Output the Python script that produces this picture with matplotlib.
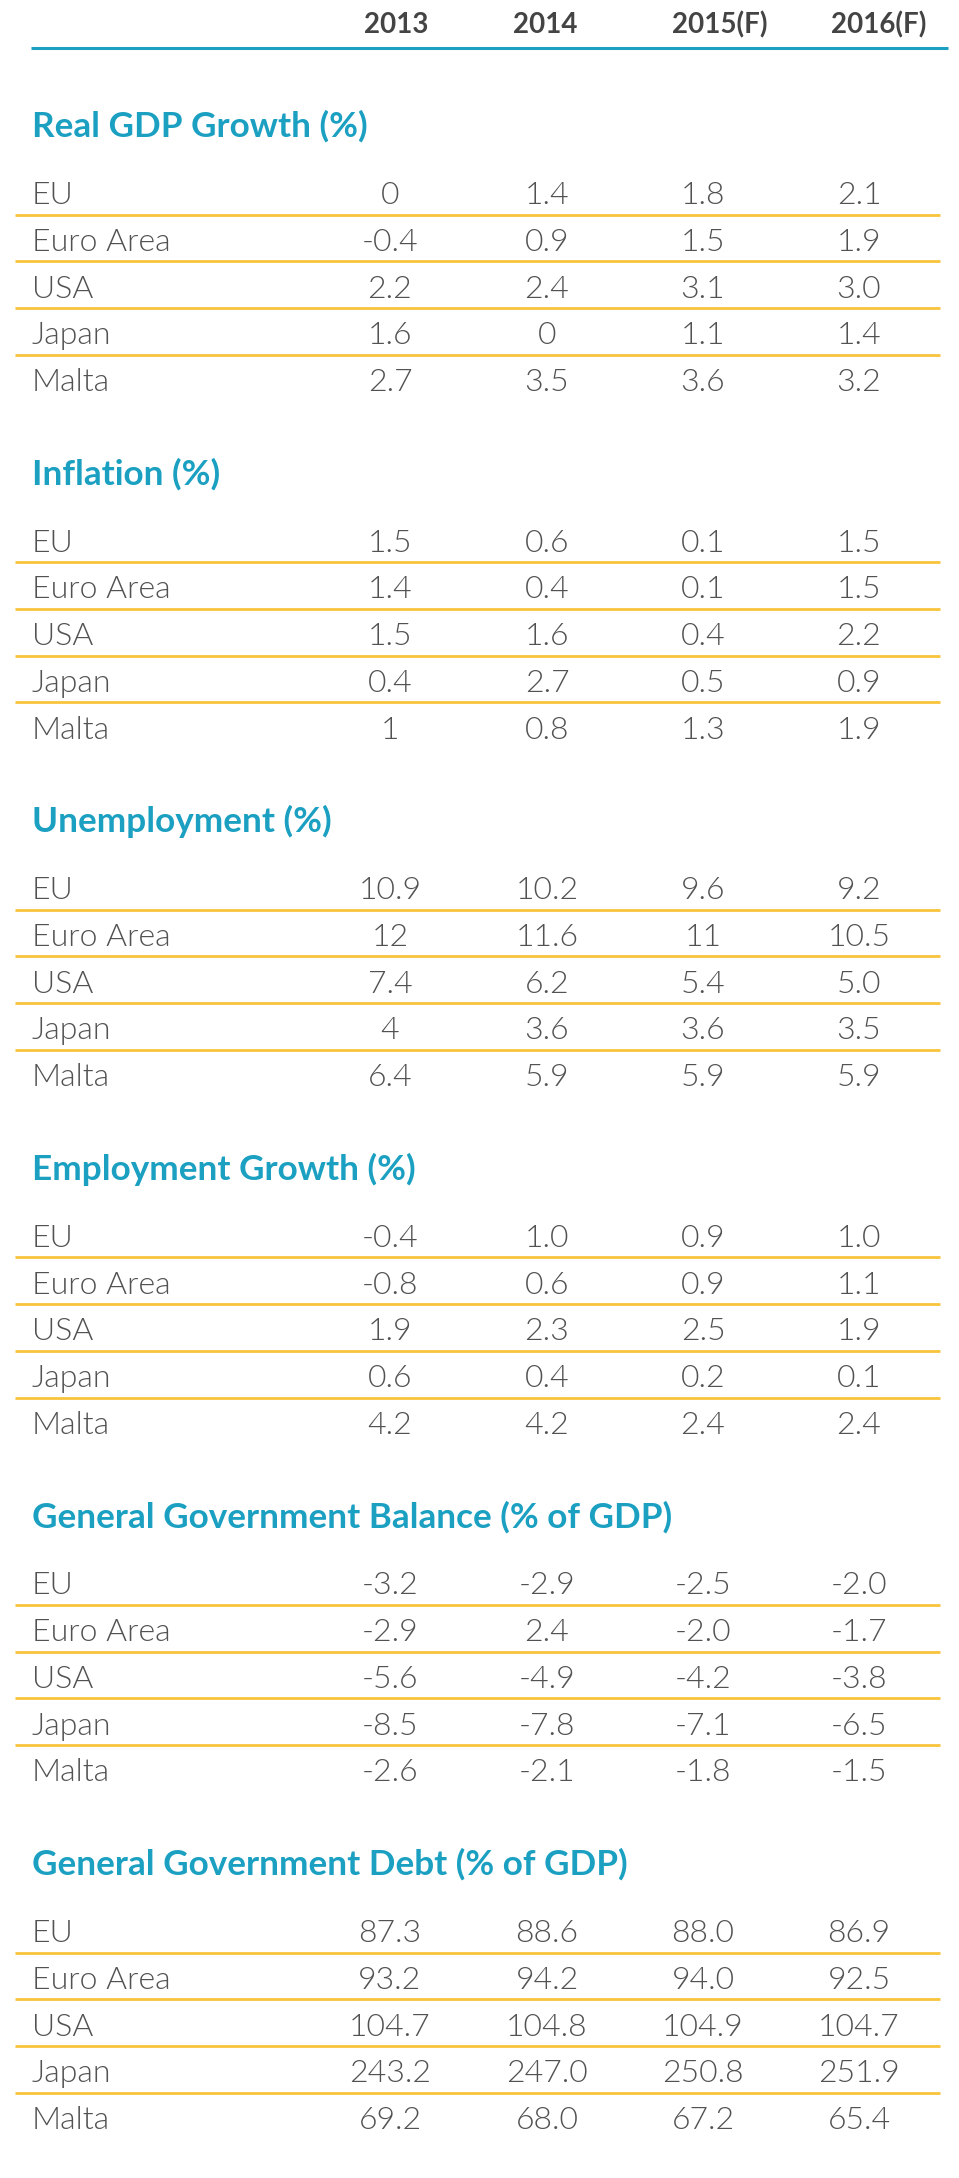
import matplotlib.pyplot as plt
from matplotlib import font_manager

years = ["2013", "2014", "2015(f)", "2016(f)"]
countries = ["EU", "Euro Area", "USA", "Japan", "Malta"]

titles = ["Real GDP Growth (%)", "Inflation (%)", "Unemployment (%)",
          "Employment Growth (%)", "General Government Balance (% of GDP)",
          "General Government Debt (% of GDP)"]

gdp = [["0", "1.4", "1.8", "2.1"],
       ["-0.4", "0.9", "1.5", "1.9"],
       ["2.2", "2.4", "3.1", "3.0"],
       ["1.6", "0", "1.1", "1.4"],
       ["2.7", "3.5", "3.6", "3.2"]]
inflation = [["1.5", "0.6", "0.1", "1.5"],
             ["1.4", "0.4", "0.1", "1.5"],
             ["1.5", "1.6", "0.4", "2.2"],
             ["0.4", "2.7", "0.5", "0.9"],
             ["1", "0.8", "1.3", "1.9"]]
unemployment = [["10.9", "10.2", "9.6", "9.2"],
                ["12", "11.6", "11", "10.5"],
                ["7.4", "6.2", "5.4", "5.0"],
                ["4", "3.6", "3.6", "3.5"],
                ["6.4", "5.9", "5.9", "5.9"]]
employment = [["-0.4", "1.0", "0.9", "1.0"],
              ["-0.8", "0.6", "0.9", "1.1"],
              ["1.9", "2.3", "2.5", "1.9"],
              ["0.6", "0.4", "0.2", "0.1"],
              ["4.2", "4.2", "2.4", "2.4"]]
balance = [["-3.2", "-2.9", "-2.5", "-2.0"],
           ["-2.9", "2.4", "-2.0", "-1.7"],
           ["-5.6", "-4.9", "-4.2", "-3.8"],
           ["-8.5", "-7.8", "-7.1", "-6.5"],
           ["-2.6", "-2.1", "-1.8", "-1.5"]]
debt = [["87.3", "88.6", "88.0", "86.9"],
        ["93.2", "94.2", "94.0", "92.5"],
        ["104.7", "104.8", "104.9", "104.7"],
        ["243.2", "247.0", "250.8", "251.9"],
        ["69.2", "68.0", "67.2", "65.4"]]
sections = [gdp, inflation, unemployment, employment, balance, debt]

installed = {f.name for f in font_manager.fontManager.ttflist}
body_font = "Lato" if "Lato" in installed else "DejaVu Sans"

W, H = 959, 2178
teal = "#1ba0c2"
yellow = "#f8c43c"
grey = "#525252"

fig = plt.figure(figsize=(W / 100, H / 100), dpi=100)
ax = fig.add_axes([0, 0, 1, 1])
ax.set_xlim(0, W)
ax.set_ylim(H, 0)
ax.axis("off")

label_x = 32
val_x = [390, 547, 703, 859]
head_x = [396, 545, 720, 879]

# header
for x, yr in zip(head_x, years):
    ax.text(x, 33, yr.replace("(f)", "(F)"), ha="center", va="baseline",
            fontsize=20, fontweight="bold", color="#444444", family=body_font)
ax.hlines(48, 31, 948, color=teal, lw=2.2)

sec_step = 347.6
row_step = 46.75
for s, (title, rows) in enumerate(zip(titles, sections)):
    y0 = 137 + s * sec_step
    ax.text(label_x, y0, title, ha="left", va="baseline", fontsize=25.3,
            fontweight="bold", color=teal, family=body_font)
    for r, (name, vals) in enumerate(zip(countries, rows)):
        yb = y0 + 67 + r * row_step
        ax.text(label_x, yb, name, ha="left", va="baseline", fontsize=23,
                fontweight=300, color=grey, family=body_font)
        for x, v in zip(val_x, vals):
            ax.text(x, yb, v, ha="center", va="baseline", fontsize=23,
                    fontweight=300, color=grey, family=body_font)
        if r < len(countries) - 1:
            ax.hlines(yb + 10.5, 15, 940, color=yellow, lw=2)

fig.savefig("out.png", dpi=100)
